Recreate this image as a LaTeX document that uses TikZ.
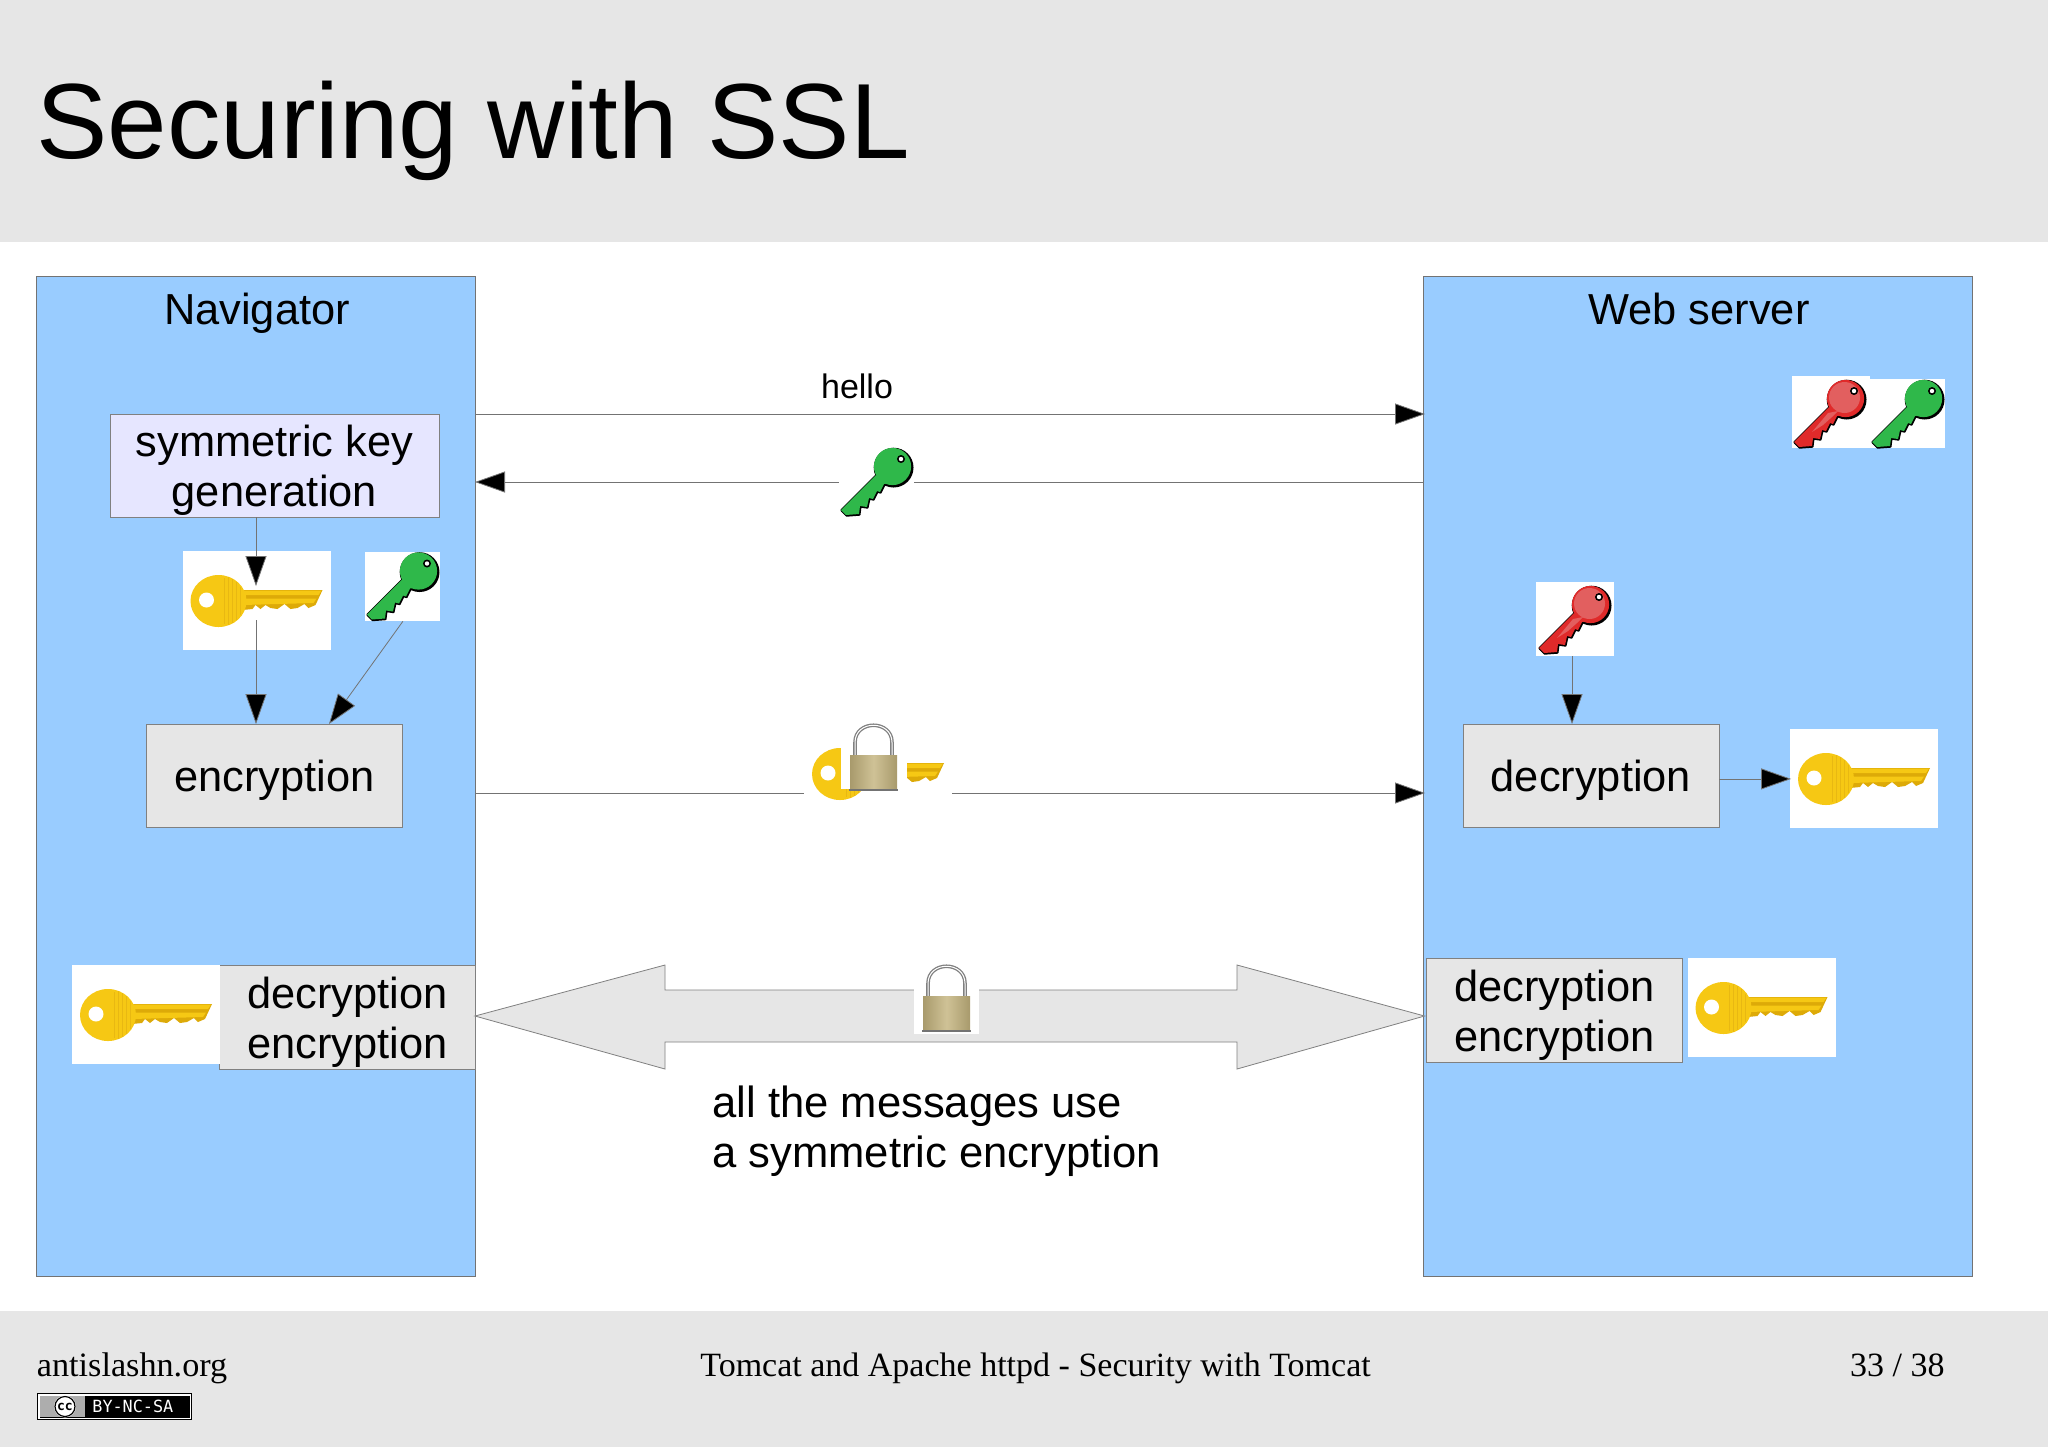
\documentclass[tikz,border=0pt]{standalone}
\usepackage{fontspec}
\setmainfont{Liberation Sans}
\newfontfamily\footfont{Liberation Serif}
\newfontfamily\badgefont{DejaVu Sans Mono}
\usetikzlibrary{arrows.meta}
\definecolor{band}{HTML}{E6E6E6}
\definecolor{panelblue}{HTML}{99CCFF}
\definecolor{lilac}{HTML}{E6E6FF}
\definecolor{gold}{HTML}{F6C814}
\definecolor{golddark}{HTML}{DDAA08}
\definecolor{goldrib}{HTML}{E8B812}
\definecolor{keygreen}{HTML}{2FB84A}
\definecolor{keyred}{HTML}{E25F5F}
\definecolor{keyredrim}{HTML}{E02A2A}
\definecolor{brasslight}{HTML}{CFC296}
\definecolor{brassdark}{HTML}{A89A6C}
\newcommand{\upline}{\rule{0pt}{20.5pt}}
\newcommand{\keyoutline}{(2,63) -- (37,28) -- (50,36) -- (45,37) -- (41,45) -- (38,44) -- (34,52) -- (30,51) -- (28,60) -- (21,59) -- (20,67) -- (7,68) -- cycle}
\tikzset{
  panel/.style={rectangle,draw=black!55,line width=.4pt,fill=panelblue,anchor=north west,inner sep=0pt},
  procbox/.style={rectangle,draw=black!50,line width=.4pt,fill=band,anchor=north west,inner sep=0pt,align=center,font=\fontsize{21.7}{25}\selectfont},
  whitebox/.style={rectangle,fill=white,anchor=north west,inner sep=0pt},
  goldbox/.style={whitebox,minimum width=74pt,minimum height=49.5pt},
  greenbox/.style={whitebox,minimum width=37.5pt,minimum height=34.5pt},
  label22/.style={anchor=base,inner sep=0pt,font=\fontsize{21.7}{25}\selectfont},
  footlabel/.style={inner sep=0pt,font=\footfont\fontsize{17.1}{20}\selectfont},
  conn/.style={draw=black!55,line width=.4pt,-{Triangle[length=15pt,width=10.5pt,fill=black]}},
  pics/goldkey/.style={code={
    \fill[golddark] (60,39) -- (140,39) -- (133,54) -- (126,57) -- (122,53) -- (115,57) -- (108,58) -- (102,53) -- (95,58) -- (88,57) -- (83,54) -- (78,58) -- (73,54) -- (70,58) -- (60,59) -- cycle;
    \fill[gold] (60,39.5) -- (139,39.5) -- (136,44) -- (60,44) -- cycle;
    \fill[gold] (60,47.5) -- (134,47.5) -- (131,52) -- (60,54) -- cycle;
    \fill[gold] (36,50) circle [x radius=28,y radius=26];
    \draw[goldrib,line width=.5pt] (42,27) -- (42,73) (46,26) -- (46,74) (50,28) -- (50,72) (54,31) -- (54,69) (58,36) -- (58,64);
    \fill[white] (24,49) circle [radius=7.5];
  }},
  pics/cutkey/.style 2 args={code={
    % black outline, heavier towards the lower right
    \draw[black,line width=.9pt,line join=round,shift={(.6,.8)}] \keyoutline;
    \draw[black,line width=.7pt,line join=round] \keyoutline;
    \fill[black] (54.6,20.6) circle [radius=19.9];
    \fill[#2] \keyoutline;
    \fill[#2] (53.5,19.5) circle [radius=18.6];
    \fill[#1] (20,53) -- (36,34) -- (46,32) -- (40,38) -- (31,46) -- cycle;
    \fill[#1] (52.5,18.5) circle [radius=15.5];
    \fill[black] (62,12) circle [radius=4];
    \fill[white] (62,12) circle [radius=2.2];
  }},
  pics/padlock/.style={code={
    \draw[black!50,line width=1.8pt] (5,1) -- (5,-12.5) .. controls (5,-35.5) and (42,-35.5) .. (42,-12.5) -- (42,1);
    \draw[white,line width=.5pt] (5,0) -- (5,-12.5) .. controls (5,-35.5) and (42,-35.5) .. (42,-12.5) -- (42,0);
    \shade[left color=brassdark,right color=brassdark,middle color=brasslight] (0,0) rectangle (47,34);
    \fill[black!55] (-1,34) rectangle (48,35.5);
  }}
}
\begin{document}
\begin{tikzpicture}[x=0.5pt,y=-0.5pt]
\useasboundingbox (0,0) rectangle (2048,1447);
\fill[white] (0,0) rectangle (2048,1447);
\fill[band] (0,0) rectangle (2048,241.5);
\fill[band] (0,1310.5) rectangle (2048,1447);
\node[anchor=base west,inner sep=0pt,font=\fontsize{53.45}{60}\selectfont] (title) at (36,158.5) {Securing with SSL};

% panels
\node[panel,minimum width=219.5pt,minimum height=500pt] (nav) at (36,275.5) {};
\node[panel,minimum width=274.5pt,minimum height=500pt] (web) at (1423,275.5) {};
\node[label22] (navt) at (257,324) {Navigator};
\node[label22] (webt) at (1699,324) {Web server};

% boxes
\node[procbox,fill=lilac,minimum width=164.5pt,minimum height=51.5pt] (sym) at (109.5,414) {\upline symmetric key\\generation};
\node[procbox,minimum width=128pt,minimum height=51.5pt] (enc) at (146,724) {\upline encryption};
\node[procbox,minimum width=128pt,minimum height=51.5pt] (dec) at (1462.5,724) {\upline decryption};
\node[procbox,minimum width=128pt,minimum height=52pt] (ldec) at (219,965) {\upline decryption\\encryption};
\node[procbox,minimum width=128pt,minimum height=52pt] (rdec) at (1426,958) {\upline decryption\\encryption};

% key images
\node[goldbox] (g1) at (182.5,551) {};
\pic at (g1.north west) {goldkey};
\node[greenbox] (k1) at (365,551.5) {};
\pic at (k1.north west) {cutkey={keygreen}{keygreen}};
\node[goldbox] (g2) at (1790,729) {};
\pic at (g2.north west) {goldkey};
\node[goldbox] (g3) at (72,965) {};
\pic at (g3.north west) {goldkey};
\node[goldbox] (g4) at (1687.5,958) {};
\pic at (g4.north west) {goldkey};
\node[whitebox,minimum width=39pt,minimum height=36pt] (r1) at (1792,376) {};
\pic at ([shift={(0,3)}]r1.north west) {cutkey={keyred}{keyredrim}};
\node[greenbox] (k2) at (1870,379) {};
\pic at (k2.north west) {cutkey={keygreen}{keygreen}};
\node[whitebox,minimum width=39pt,minimum height=37pt] (r2) at (1536,582) {};
\pic at ([shift={(1,3)}]r2.north west) {cutkey={keyred}{keyredrim}};

% coordinates of connector ends
\coordinate (helloS) at (475,414);
\coordinate (helloE) at (1425,414);
\coordinate (retS) at (1423,482);
\coordinate (retE) at (475,482);
\coordinate (encS) at (475,793);
\coordinate (encE) at (1425,793);
\coordinate (symDown) at (256,517);
\coordinate (symTip) at (256,586);
\coordinate (gDown) at (256,620);
\coordinate (gTip) at (256,724);
\coordinate (kTip) at (329,724);
\coordinate (rTip) at (1572,724);
\coordinate (rDown) at (1572,656);

% connectors
\draw[conn] (helloS) -- (helloE);
\draw[conn] (retS) -- (retE);
\draw[conn] (encS) -- (encE);
\draw[conn] (symDown) -- (symTip);
\draw[conn] (gDown) -- (gTip);
\draw[conn] (k1.south) -- (kTip);
\draw[conn] (rDown) -- (rTip);
\draw[conn] (dec.east |- g2.west) -- ([xshift=.5pt]g2.west);

% key on the return arrow
\node[greenbox,minimum height=36pt] (k3) at (839,446) {};
\pic at ([shift={(0,1)}]k3.north west) {cutkey={keygreen}{keygreen}};

% encrypted key
\node[goldbox] (g5) at (804,724) {};
\pic at (g5.north west) {goldkey};
\node[whitebox,minimum width=33pt,minimum height=38pt] (lockbg) at (841,713) {};
\pic at (850,755) {padlock};

% double arrow
\node[inner sep=0pt,minimum size=0pt] (dL) at (475,1016) {};
\node[inner sep=0pt,minimum size=0pt] (dR) at (1424.5,1016) {};
\draw[draw=black!50,line width=.4pt,fill=band] (dL.center) -- (665,965) -- (665,990) -- (1237,990) -- (1237,965) -- (dR.center) -- (1237,1069) -- (1237,1042) -- (665,1042) -- (665,1069) -- cycle;
\node[whitebox,minimum width=32.5pt,minimum height=36pt] (lock2) at (914,962) {};
\pic at (923,996) {padlock};

% labels
\node[anchor=base,inner sep=0pt,font=\fontsize{17}{20}\selectfont] (hello) at (857,398) {hello};
\node[anchor=base west,inner sep=0pt,font=\fontsize{21.8}{25}\selectfont] (msg1) at (712,1117) {all the messages use};
\node[anchor=base west,inner sep=0pt,font=\fontsize{21.8}{25}\selectfont] (msg2) at (712,1167) {a symmetric encryption};

% footer
\node[footlabel,anchor=base west] (f1) at (36.5,1376.5) {antislashn.org};
\node[footlabel,anchor=base,font=\footfont\fontsize{17}{20}\selectfont] (f2) at (1035.5,1376.5) {Tomcat and Apache httpd - Security with Tomcat};
\node[footlabel,anchor=base east,font=\footfont\fontsize{17}{20}\selectfont] (f3) at (1945,1376.5) {33 / 38};

% licence badge
\node[rectangle,draw=black,line width=.8pt,fill=white,minimum width=77pt,minimum height=13pt,anchor=north west,inner sep=0pt] (cc) at (36.5,1392.5) {};
\fill[black] (39.5,1395.5) rectangle (189.5,1417.5);
\fill[black!32] (40,1396) rectangle (85,1417);
\fill[white] (65,1406.5) circle [radius=11];
\draw[black,line width=.6pt] (65,1406.5) circle [radius=10];
\node[inner sep=0pt,font=\badgefont\bfseries\fontsize{6.5}{7}\selectfont] (cct) at (65,1406.5) {cc};
\node[anchor=west,inner sep=0pt,text=white,font=\badgefont\fontsize{8.4}{9}\selectfont] (ccb) at (92,1406.5) {BY-NC-SA};
\end{tikzpicture}
\end{document}
